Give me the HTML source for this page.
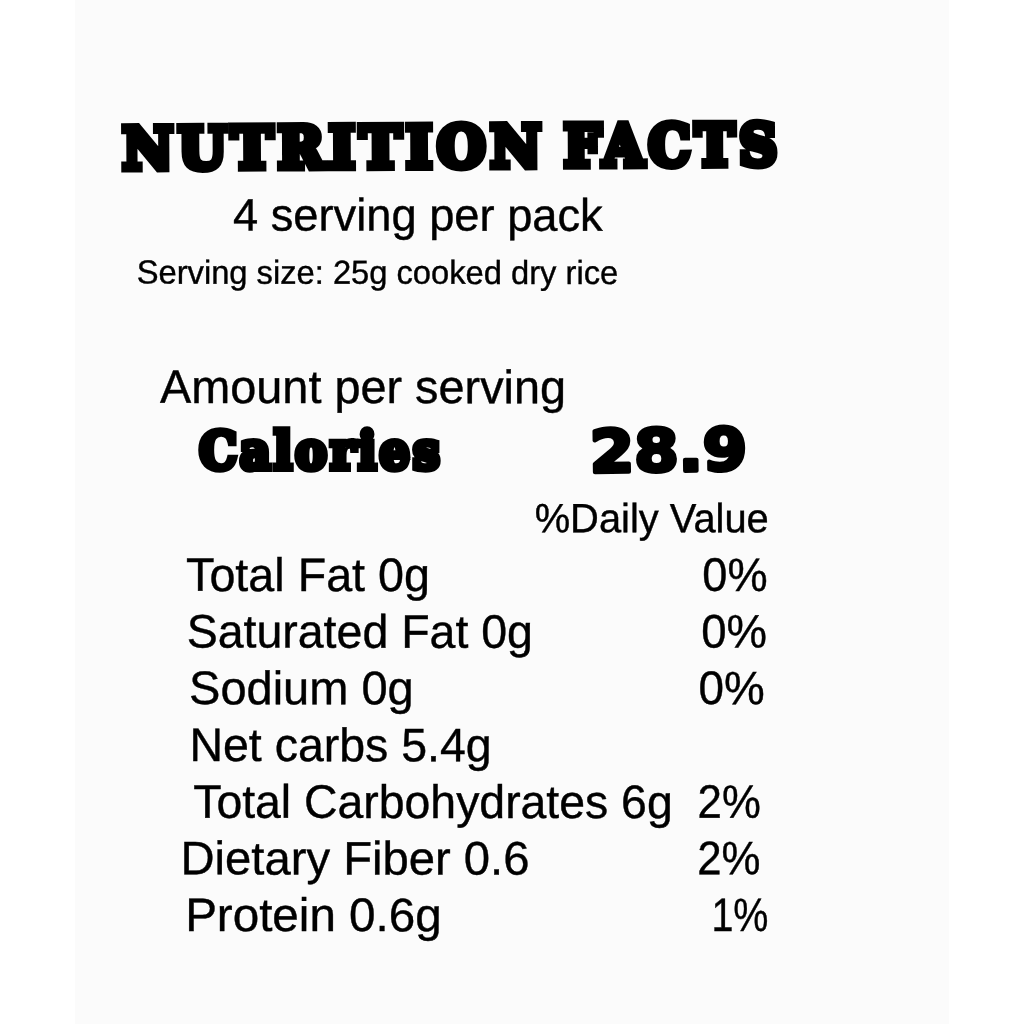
<!DOCTYPE html>
<html lang="en"><head><meta charset="utf-8"><title>Nutrition Facts</title>
<style>
html,body{margin:0;padding:0}
body{width:1024px;height:1024px;background:#fff;position:relative;overflow:hidden}
.panel{position:absolute;left:75px;top:0;width:874px;height:1024px;background:#fbfbfb}
.s{position:absolute;left:0;top:0;overflow:visible}
.t{position:absolute;left:0;top:0;white-space:pre;text-rendering:geometricPrecision;line-height:1;color:#000;transform-origin:0 0;margin:0;padding:0;font-kerning:normal}
</style></head>
<body>
<div class="panel"></div>
<main>
<svg class="s" width="1024" height="1024" viewBox="0 0 1024 1024">
<text xml:space="preserve" transform="translate(122.53 168.68) rotate(-0.3) scale(0.9680 1)" font-family="DejaVu Serif, Liberation Serif, serif" font-weight="700" font-size="57.27" stroke="#000" stroke-width="7.6" stroke-linejoin="miter" fill="#000" text-rendering="geometricPrecision" letter-spacing="5.2">NUTRITION </text>
<text xml:space="preserve" transform="translate(563.95 165.93) rotate(-0.3) scale(0.9215 1)" font-family="DejaVu Serif, Liberation Serif, serif" font-weight="700" font-size="57.07" stroke="#000" stroke-width="7.6" stroke-linejoin="miter" fill="#000" text-rendering="geometricPrecision" letter-spacing="5.2">FACTS</text>
<text xml:space="preserve" transform="translate(199.16 468.63) rotate(0.05) scale(0.9155 1)" font-family="DejaVu Serif, Liberation Serif, serif" font-weight="700" font-size="51.66" stroke="#000" stroke-width="6.6" stroke-linejoin="miter" fill="#000" text-rendering="geometricPrecision" letter-spacing="3.6">Calories</text>
<text xml:space="preserve" transform="translate(590.05 472.16) rotate(-0.8) scale(1.0851 1)" font-family="DejaVu Sans, Liberation Sans, sans-serif" font-weight="700" font-size="58.81" stroke="#000" stroke-width="4" stroke-linejoin="round" fill="#000" text-rendering="geometricPrecision">28.9</text>
</svg>
<div class="t" style="font-family:'Liberation Sans', sans-serif;font-weight:400;font-size:45.62px;transform:translate(232.91px,192.42px) rotate(0.05deg) scaleX(0.9925);-webkit-text-stroke:0.4px #000;paint-order:stroke fill;">4 serving per pack</div>
<div class="t" style="font-family:'Liberation Sans', sans-serif;font-weight:400;font-size:33.32px;transform:translate(136.74px,256.60px) rotate(0.05deg) scaleX(0.9812);-webkit-text-stroke:0.4px #000;paint-order:stroke fill;">Serving size: 25g cooked dry rice</div>
<div class="t" style="font-family:'Liberation Sans', sans-serif;font-weight:400;font-size:46.94px;transform:translate(160.09px,363.87px) rotate(0.05deg) scaleX(0.9975);-webkit-text-stroke:0.4px #000;paint-order:stroke fill;">Amount per serving</div>
<div class="t" style="font-family:'Liberation Sans', sans-serif;font-weight:400;font-size:40.95px;transform:translate(534.70px,498.16px) rotate(0.05deg) scaleX(0.9736);-webkit-text-stroke:0.4px #000;paint-order:stroke fill;">%Daily Value</div>
<div class="t" style="font-family:'Liberation Sans', sans-serif;font-weight:400;font-size:46.99px;transform:translate(186.10px,550.87px) rotate(0.05deg) scaleX(0.9936);-webkit-text-stroke:0.4px #000;paint-order:stroke fill;">Total Fat 0g</div>
<div class="t" style="font-family:'Liberation Sans', sans-serif;font-weight:400;font-size:46.99px;transform:translate(702.40px,550.87px) rotate(0.05deg) scaleX(0.9608);-webkit-text-stroke:0.4px #000;paint-order:stroke fill;">0%</div>
<div class="t" style="font-family:'Liberation Sans', sans-serif;font-weight:400;font-size:46.99px;transform:translate(186.69px,607.52px) rotate(0.05deg) scaleX(0.9894);-webkit-text-stroke:0.4px #000;paint-order:stroke fill;">Saturated Fat 0g</div>
<div class="t" style="font-family:'Liberation Sans', sans-serif;font-weight:400;font-size:46.99px;transform:translate(701.22px,607.52px) rotate(0.05deg) scaleX(0.9684);-webkit-text-stroke:0.4px #000;paint-order:stroke fill;">0%</div>
<div class="t" style="font-family:'Liberation Sans', sans-serif;font-weight:400;font-size:46.99px;transform:translate(189.11px,664.11px) rotate(0.05deg) scaleX(0.9999);-webkit-text-stroke:0.4px #000;paint-order:stroke fill;">Sodium 0g</div>
<div class="t" style="font-family:'Liberation Sans', sans-serif;font-weight:400;font-size:46.99px;transform:translate(698.51px,664.11px) rotate(0.05deg) scaleX(0.9744);-webkit-text-stroke:0.4px #000;paint-order:stroke fill;">0%</div>
<div class="t" style="font-family:'Liberation Sans', sans-serif;font-weight:400;font-size:46.99px;transform:translate(189.46px,721.03px) rotate(0.05deg) scaleX(0.9891);-webkit-text-stroke:0.4px #000;paint-order:stroke fill;">Net carbs 5.4g</div>
<div class="t" style="font-family:'Liberation Sans', sans-serif;font-weight:400;font-size:46.99px;transform:translate(193.25px,777.73px) rotate(0.05deg) scaleX(0.9870);-webkit-text-stroke:0.4px #000;paint-order:stroke fill;">Total Carbohydrates 6g</div>
<div class="t" style="font-family:'Liberation Sans', sans-serif;font-weight:400;font-size:46.99px;transform:translate(697.60px,777.73px) rotate(0.05deg) scaleX(0.9305);-webkit-text-stroke:0.4px #000;paint-order:stroke fill;">2%</div>
<div class="t" style="font-family:'Liberation Sans', sans-serif;font-weight:400;font-size:46.99px;transform:translate(180.55px,834.32px) rotate(0.05deg) scaleX(1.0048);-webkit-text-stroke:0.4px #000;paint-order:stroke fill;">Dietary Fiber 0.6</div>
<div class="t" style="font-family:'Liberation Sans', sans-serif;font-weight:400;font-size:46.99px;transform:translate(697.21px,834.32px) rotate(0.05deg) scaleX(0.9320);-webkit-text-stroke:0.4px #000;paint-order:stroke fill;">2%</div>
<div class="t" style="font-family:'Liberation Sans', sans-serif;font-weight:400;font-size:46.99px;transform:translate(185.16px,890.95px) rotate(0.05deg) scaleX(1.0125);-webkit-text-stroke:0.4px #000;paint-order:stroke fill;">Protein 0.6g</div>
<div class="t" style="font-family:'Liberation Sans', sans-serif;font-weight:400;font-size:46.99px;transform:translate(711.45px,890.95px) rotate(0.05deg) scaleX(0.8400);-webkit-text-stroke:0.4px #000;paint-order:stroke fill;">1%</div>
</main>
</body></html>
